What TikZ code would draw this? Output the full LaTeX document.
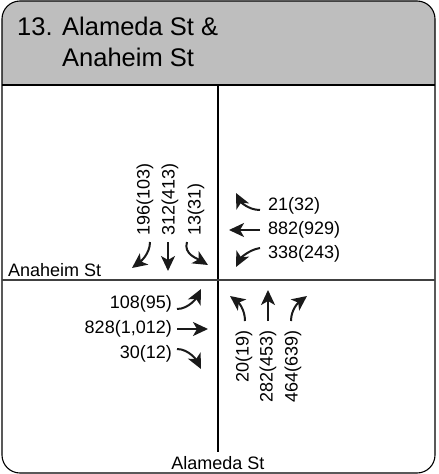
\documentclass[tikz,border=0pt]{standalone}
\usepackage{fontspec}
\setmainfont{Liberation Sans}
\usetikzlibrary{arrows.meta}
\definecolor{hdrgray}{HTML}{BEBEBE}
\definecolor{mvgray}{HTML}{1A1A1A}
\begin{document}
\begin{tikzpicture}[x=1pt,y=-1pt,
  frame/.style={draw=black,line width=1.1pt},
  street/.style={line width=1.1pt},
  vol/.style={inner sep=0pt,font=\fontsize{18}{20}\selectfont},
  lbl/.style={inner sep=0pt,font=\fontsize{18}{20}\selectfont},
  ttl/.style={inner sep=0pt,font=\fontsize{25.5}{28}\selectfont},
  mv/.style={draw=mvgray,line width=2pt,-{Stealth[length=15pt,width=14pt,inset=4pt]}}]
\useasboundingbox (0,0) rectangle (439,474);

% header band
\fill[hdrgray] (2,85) [rounded corners=18pt] -- (2,1) -- (435,1) [sharp corners] -- (435,85) -- cycle;
\draw[frame] (2,85) -- (435,85);
\draw[frame,rounded corners=18pt] (2,1) rectangle (435,473);

\node[ttl,anchor=base west] (num) at (17,35) {13.};
\node[ttl,anchor=base west] (t1) at (62,35) {Alameda St \&};
\node[ttl,anchor=base west] (t2) at (62,66) {Anaheim St};

% streets
\coordinate (vtop) at (218,85);
\coordinate (vbot) at (218,452);
\coordinate (hl) at (2,280);
\coordinate (hr) at (435,280);
\draw[street] (vtop) -- (vbot);
\draw[street,draw=black!75] (hl) -- (hr);
\node[lbl,anchor=base west] (anaheim) at (8,276) {Anaheim St};
\node[lbl,anchor=base] (alameda) at (218,469) {Alameda St};

% southbound
\node[vol,rotate=90,anchor=west] (sbr) at (145,236) {196(103)};
\node[vol,rotate=90,anchor=west] (sbt) at (170,236) {312(413)};
\node[vol,rotate=90,anchor=west] (sbl) at (196,236) {13(31)};
\coordinate (sbr0) at (150,242); \coordinate (sbr1) at (132,268);
\coordinate (sbt0) at (168,242); \coordinate (sbt1) at (168,271);
\coordinate (sbl0) at (187,242); \coordinate (sbl1) at (208,265);
\draw[mv] (sbr0) .. controls +(0,12) and +(8,-6) .. (sbr1);
\draw[mv] (sbt0) -- (sbt1);
\draw[mv] (sbl0) .. controls +(-4,12) and +(-10,-6) .. (sbl1);

% westbound
\node[vol,anchor=west] (wbr) at (268,206) {21(32)};
\node[vol,anchor=west] (wbt) at (268,230) {882(929)};
\node[vol,anchor=west] (wbl) at (268,254) {338(243)};
\coordinate (wbr0) at (260,210); \coordinate (wbr1) at (236,193);
\coordinate (wbt0) at (260,230); \coordinate (wbt1) at (229,230);
\coordinate (wbl0) at (260,248); \coordinate (wbl1) at (236,267);
\draw[mv] (wbr0) .. controls +(-12,0) and +(4,8) .. (wbr1);
\draw[mv] (wbt0) -- (wbt1);
\draw[mv] (wbl0) .. controls +(-12,2) and +(4,-8) .. (wbl1);

% eastbound
\node[vol,anchor=east] (ebl) at (172,304) {108(95)};
\node[vol,anchor=east] (ebt) at (172,329) {828(1,012)};
\node[vol,anchor=east] (ebr) at (172,354) {30(12)};
\coordinate (ebl0) at (177,309); \coordinate (ebl1) at (201,289);
\coordinate (ebt0) at (177,329); \coordinate (ebt1) at (208,329);
\coordinate (ebr0) at (177,349); \coordinate (ebr1) at (201,369);
\draw[mv] (ebl0) .. controls +(12,0) and +(-4,8) .. (ebl1);
\draw[mv] (ebt0) -- (ebt1);
\draw[mv] (ebr0) .. controls +(12,0) and +(-4,-8) .. (ebr1);

% northbound
\node[vol,rotate=90,anchor=east] (nbl) at (244,330) {20(19)};
\node[vol,rotate=90,anchor=east] (nbt) at (268,330) {282(453)};
\node[vol,rotate=90,anchor=east] (nbr) at (293,330) {464(639)};
\coordinate (nbl0) at (245,321); \coordinate (nbl1) at (230,296);
\coordinate (nbt0) at (268,321); \coordinate (nbt1) at (268,290);
\coordinate (nbr0) at (291,321); \coordinate (nbr1) at (307,296);
\draw[mv] (nbl0) .. controls +(0,-12) and +(8,6) .. (nbl1);
\draw[mv] (nbt0) -- (nbt1);
\draw[mv] (nbr0) .. controls +(0,-12) and +(-8,6) .. (nbr1);
\end{tikzpicture}
\end{document}
